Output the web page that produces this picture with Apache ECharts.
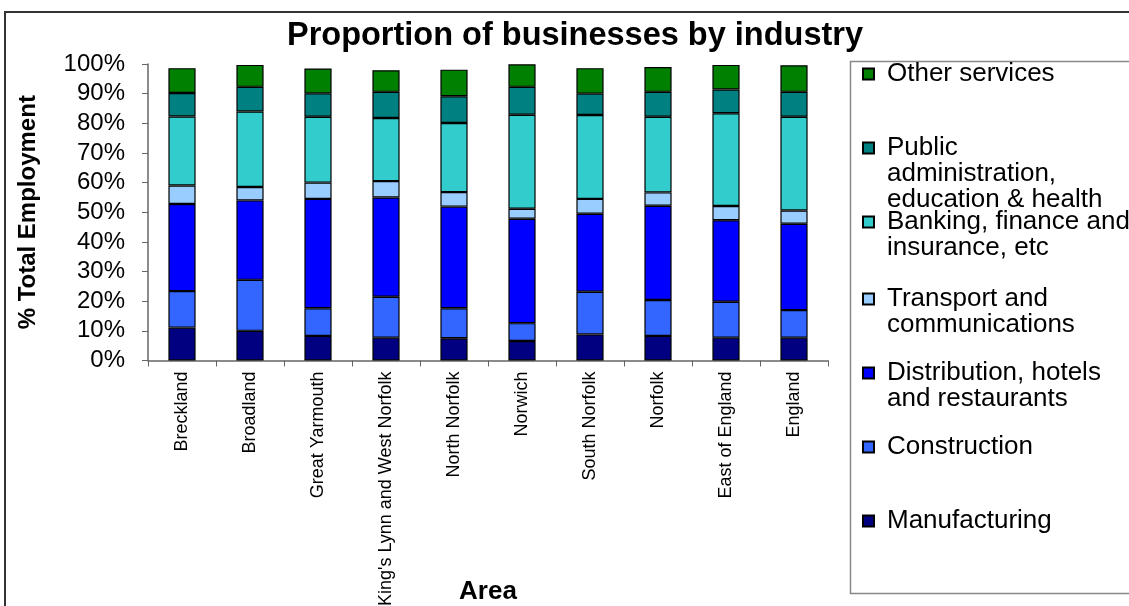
<!DOCTYPE html>
<html>
<head>
<meta charset="utf-8">
<script src="https://cdn.jsdelivr.net/npm/echarts@6/dist/echarts.min.js"></script>
<style>
html,body{margin:0;padding:0;background:#fff;}
#chart{width:1129px;height:606px;}
</style>
</head>
<body>
<div id="chart"></div>
<script>
const categories = ["Breckland","Broadland","Great Yarmouth","King's Lynn and West Norfolk","North Norfolk","Norwich","South Norfolk","Norfolk","East of England","England"];
const yTickLabels = ["0%","10%","20%","30%","40%","50%","60%","70%","80%","90%","100%"];
const manufacturing = [11.1, 10.0, 8.3, 7.7, 7.5, 6.6, 8.8, 8.3, 7.7, 7.7];
const construction  = [12.3, 17.2, 9.3, 13.8, 10.1, 6.0, 14.4, 12.1, 12.1, 9.3];
const distribution  = [29.4, 26.8, 36.9, 33.5, 34.3, 35.2, 26.3, 31.8, 27.5, 29.1];
const transport     = [6.2, 4.5, 5.5, 5.5, 4.9, 3.4, 5.0, 4.5, 4.8, 4.5];
const banking       = [23.3, 25.5, 22.2, 21.3, 23.3, 31.7, 28.3, 25.5, 31.3, 31.6];
const publicAdmin   = [7.9, 8.3, 7.9, 8.8, 9.0, 9.4, 7.2, 8.4, 8.0, 8.4];
const otherServices = [8.4, 7.4, 8.4, 7.3, 9.0, 7.6, 8.6, 8.4, 8.3, 9.0];

const seriesDefs = [
  {name: "Manufacturing", data: manufacturing, color: "#000080", label: "Manufacturing", cy: 521},
  {name: "Construction", data: construction, color: "#3366FF", label: "Construction", cy: 447},
  {name: "Distribution, hotels and restaurants", data: distribution, color: "#0000FF", label: "Distribution, hotels\nand restaurants", cy: 373},
  {name: "Transport and communications", data: transport, color: "#99CCFF", label: "Transport and\ncommunications", cy: 299},
  {name: "Banking, finance and insurance, etc", data: banking, color: "#33CCCC", label: "Banking, finance and\ninsurance, etc", cy: 222},
  {name: "Public administration, education & health", data: publicAdmin, color: "#008080", label: "Public\nadministration,\neducation & health", cy: 148},
  {name: "Other services", data: otherServices, color: "#008000", label: "Other services", cy: 74}
];

const FONT = "'Liberation Sans', Arial, sans-serif";
const LH = 26;

const legends = seriesDefs.map(function (s) {
  const n = s.label.split("\n").length;
  const total = 2 * n - 1;
  const pre = new Array(n - 1).fill(" ").join("\n");
  const txt = (n > 1 ? pre + "\n" : "") + s.label;
  return {
    data: [s.name],
    orient: "vertical",
    left: 862,
    top: s.cy - total * LH / 2,
    padding: 0,
    itemWidth: 11,
    itemHeight: 11,
    icon: "rect",
    selectedMode: false,
    formatter: function () { return txt; },
    textStyle: {fontFamily: FONT, fontSize: 26, lineHeight: LH, color: "#000", padding: [0, 0, 0, 8]}
  };
});

const chart = echarts.init(document.getElementById("chart"));
chart.setOption({
  animation: false,
  backgroundColor: "#fff",
  title: {
    text: "Proportion of businesses by industry",
    left: 575, top: 20, padding: 0, textAlign: "center",
    textStyle: {fontFamily: FONT, fontSize: 32.5, fontWeight: "bold", color: "#000"}
  },
  graphic: [
    {type: "rect", shape: {x: 5, y: 12, width: 1200, height: 700}, style: {fill: "none", stroke: "#333", lineWidth: 2}, silent: true},
    {type: "rect", shape: {x: 850.5, y: 61.5, width: 320, height: 532}, style: {fill: "none", stroke: "#888", lineWidth: 1.5}, silent: true}
  ],
  legend: legends,
  grid: {left: 148, right: 301, top: 64, bottom: 245.5, containLabel: false, outerBoundsMode: "none"},
  xAxis: {
    type: "category",
    data: categories,
    name: "Area",
    nameLocation: "middle",
    nameGap: 218,
    nameMoveOverlap: false,
    nameTextStyle: {fontFamily: FONT, fontSize: 26, fontWeight: "bold", color: "#000"},
    axisLine: {lineStyle: {color: "#666", width: 1.5}},
    axisTick: {show: true, length: 6, lineStyle: {color: "#666"}},
    axisLabel: {interval: 0, rotate: 90, margin: 11, fontFamily: FONT, fontSize: 18, color: "#000"}
  },
  yAxis: {
    type: "value",
    min: 0, max: 100, interval: 10,
    name: "% Total Employment",
    nameLocation: "middle",
    nameRotate: 90,
    nameGap: 108,
    nameMoveOverlap: false,
    nameTextStyle: {fontFamily: FONT, fontSize: 24, fontWeight: "bold", color: "#000"},
    axisLine: {show: true, lineStyle: {color: "#666", width: 1.5}},
    axisTick: {show: true, length: 6, lineStyle: {color: "#666"}},
    splitLine: {show: false},
    axisLabel: {margin: 23, fontFamily: FONT, fontSize: 24, color: "#000",
      formatter: function (v) { return yTickLabels[Math.round(v / 10)]; }}
  },
  series: seriesDefs.map(function (s) {
    return {
      name: s.name, type: "bar", stack: "total", data: s.data, barWidth: "40%",
      itemStyle: {color: s.color, borderColor: "#000", borderWidth: 1.2},
      emphasis: {disabled: true}
    };
  })
});
</script>
</body>
</html>
